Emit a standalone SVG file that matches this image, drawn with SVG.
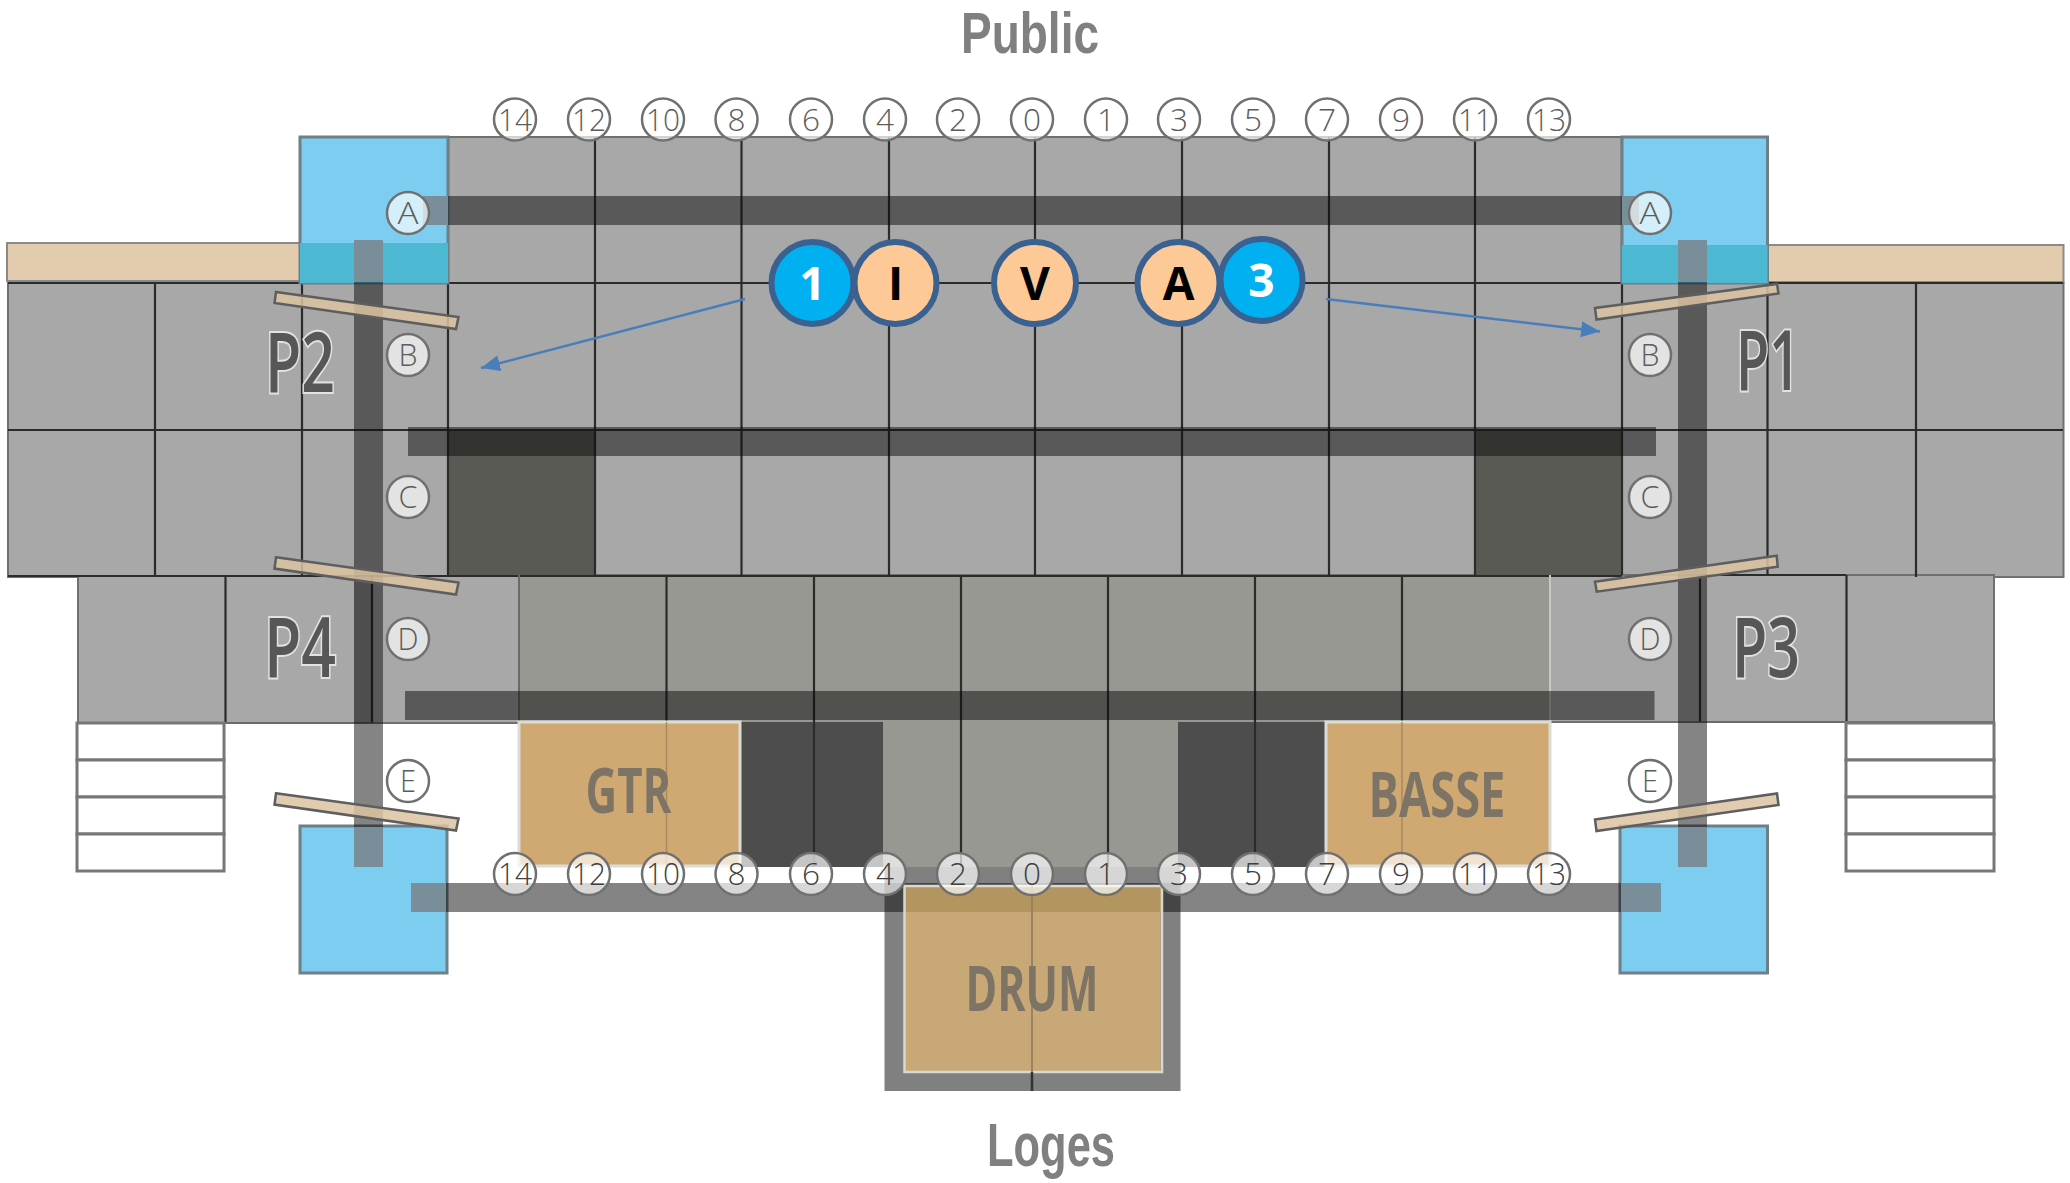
<svg xmlns="http://www.w3.org/2000/svg" width="2070" height="1183" viewBox="0 0 2070 1183">
<style>
text{font-family:"Open Sans","Noto Sans",sans-serif;text-anchor:middle}
.grey{fill:#a8a8a8;stroke:#707070;stroke-width:2}
.centre{fill:#989892}
.gl{stroke:#2b2b2b;stroke-width:2.2;fill:none}
.gs{stroke:#6a6a6a;stroke-width:2;fill:none}
.blue{fill:#7ccdf0;stroke:#6f7f88;stroke-width:3}
.over{fill:#7a8e9a}
.tan{fill:#e3cbae;stroke:#8a8a8a;stroke-width:2}
.band{fill:#0a0a0a;fill-opacity:.5}
.stage{fill:#cfa872;stroke:#dcdcd6;stroke-width:3}
.bar{fill:#dcc3a2;fill-opacity:.85;stroke:#5e5e5e;stroke-width:2.5}
.stair{fill:#fff;stroke:#777;stroke-width:3}
.nc{fill:#fff;fill-opacity:.68;stroke:#707070;stroke-width:2.5}
.nt{font-size:31px;font-weight:300;fill:#5c5c5c}
#column-markers-bottom .nt{fill:#404040}
.pz{font-size:84px;font-weight:600;fill:#575757;stroke:#e2e2e2;stroke-width:4;paint-order:stroke}
.st{font-size:62px;font-weight:700;fill:#7d7466}
.tt{font-family:"Liberation Sans",Arial,sans-serif;font-weight:700;fill:#808080}
.pc{stroke:#3a6190;stroke-width:6}
.pt{font-size:46px;font-weight:700}
.arr{stroke:#4a7ebb;stroke-width:2.5;fill:none;marker-end:url(#ah)}
</style>
<defs>
<marker id="ah" markerUnits="userSpaceOnUse" markerWidth="20" markerHeight="18" refX="19" refY="8" orient="auto"><path d="M0 0L19 8L0 16Z" fill="#4a7ebb"/></marker>
</defs>

<g id="platforms">
<rect x="7" y="243" width="293" height="38" class="tan"/>
<rect x="1767.5" y="245" width="296" height="37" class="tan"/>
<rect x="448" y="137" width="1174" height="438" class="grey"/>
<rect x="8" y="283" width="440" height="294" class="grey"/>
<rect x="1622" y="283" width="441.5" height="294" class="grey"/>
<rect x="78" y="576" width="441" height="147" class="grey"/>
<rect x="1550" y="575" width="444" height="147" class="grey"/>
<rect x="519" y="575" width="1031" height="147" class="centre"/>
<rect x="883" y="722" width="295" height="145" class="centre"/>
<rect x="740" y="722" width="143" height="145" fill="#4d4d4d"/>
<rect x="1178" y="722" width="148" height="145" fill="#4d4d4d"/>
<rect x="448" y="430" width="147" height="145" fill="#5a5a55"/>
<rect x="1475" y="430" width="147" height="145" fill="#5a5a55"/>
</g>

<g id="grid">
<path class="gl" d="M595 137V575M741.5 137V575M889 137V575M1035 137V575M1182 137V575M1329 137V575M1475 137V575M448 137V575M1622 137V575"/>
<path class="gl" d="M155 283V577M302 283V577M1767.500 283V575M1916 283V577"/>
<path class="gl" d="M8 430H2063M448 283H1767M8 283H300M1767 283H2063M8 576H1622M1700 575H1846"/>
<path class="gl" d="M225.5 576V723M372 576V723M666.5 576V722M814 575V867M961 575V867M1108 575V867M1255 575V867M1402 575V722M1700 575V722M1846.5 575V722"/>
<path class="gs" d="M519 575V722M78 723H372M1700 722H1994"/>
<path d="M1550 575V722" stroke="#c8c8c4" stroke-width="2"/>
</g>

<g id="blue-zones">
<rect x="300" y="137" width="148" height="146" class="blue"/>
<rect x="1622" y="137" width="145.500" height="146" class="blue"/>
<rect x="300" y="243" width="148" height="40" fill="#4cb8d2"/>
<rect x="1622" y="245" width="145.500" height="38" fill="#4cb8d2"/>
<rect x="300" y="826" width="147" height="147" class="blue"/>
<rect x="1620" y="826" width="147.500" height="147" class="blue"/>
</g>

<g id="stairs">
<rect x="77" y="723" width="147" height="37" class="stair"/>
<rect x="77" y="760" width="147" height="37" class="stair"/>
<rect x="77" y="797" width="147" height="37" class="stair"/>
<rect x="77" y="834" width="147" height="37" class="stair"/>
<rect x="1846" y="723" width="148" height="37" class="stair"/>
<rect x="1846" y="760" width="148" height="37" class="stair"/>
<rect x="1846" y="797" width="148" height="37" class="stair"/>
<rect x="1846" y="834" width="148" height="37" class="stair"/>
</g>

<g id="stages">
<g id="gtr"><rect x="519" y="722" width="221" height="144" class="stage"/><path d="M666.5 722V866" stroke="#a88a60" stroke-width="1.5"/><text x="628.5" y="813" class="st" textLength="86" lengthAdjust="spacingAndGlyphs">GTR</text></g>
<g id="basse"><rect x="1326" y="722" width="224" height="144" class="stage"/><path d="M1402 722V866" stroke="#a88a60" stroke-width="1.5"/><text x="1437" y="817" class="st" textLength="137" lengthAdjust="spacingAndGlyphs">BASSE</text></g>
<rect id="drum-frame" x="894.5" y="877" width="276" height="204" fill="#c8a876" stroke="#808080" stroke-width="20"/>
</g>

<g id="bands">
<rect x="423" y="196" width="1216" height="29" class="band"/>
<rect x="408" y="427" width="1248" height="29" class="band"/>
<rect x="405" y="691" width="1249.500" height="29" class="band"/>
<rect x="411" y="883" width="1249.500" height="29" class="band"/>
<rect x="354" y="240" width="29" height="627" class="band"/>
<rect x="1678" y="240" width="29" height="627" class="band"/>
<rect x="354" y="576" width="18" height="147" fill="#000" fill-opacity=".12"/>
<rect x="423" y="196" width="25" height="29" class="over"/>
<rect x="1622" y="196" width="17" height="29" class="over"/>
<rect x="354" y="240" width="29" height="42" class="over"/>
<rect x="1678" y="240" width="29" height="42" class="over"/>
<rect x="354" y="827" width="29" height="40" class="over"/>
<rect x="1678" y="827" width="29" height="40" class="over"/>
<rect x="411" y="883" width="35" height="29" class="over"/>
<rect x="1621" y="883" width="39.500" height="29" class="over"/>
</g>

<g id="drum">
<rect x="905" y="886" width="257" height="26" fill="#b3955f"/>
<rect x="904.500" y="886" width="257.500" height="186" fill="none" stroke="#d8d8d0" stroke-width="2.5"/>
<path d="M1032 886V1072" stroke="#9a8360" stroke-width="2"/>
<path d="M1032 1072V1091" stroke="#333" stroke-width="2.5"/>
<text x="1032" y="1011" class="st" textLength="133" lengthAdjust="spacingAndGlyphs">DRUM</text>
</g>

<g id="risers">
<path class="bar" d="M276 292L458.500 317L456 329L274.500 303Z"/>
<path class="bar" d="M276 557.300L458.500 582.600L456 594.600L274.500 568.600Z"/>
<path class="bar" d="M276 793.300L458.500 818.600L456 830.600L274.500 804.600Z"/>
<path class="bar" d="M1595 308L1777 284L1778.500 293.500L1596.500 319.500Z"/>
<path class="bar" d="M1595 581.700L1776.700 555.700L1777.700 566.700L1596.700 591.700Z"/>
<path class="bar" d="M1595 819.500L1777 793.500L1778.500 805L1596.500 831Z"/>
</g>

<g id="connectors">
<path class="arr" d="M745 299L481 368"/>
<path class="arr" d="M1326 299L1600 331.500"/>
</g>

<g id="zone-labels">
<text x="300" y="392" class="pz" textLength="70" lengthAdjust="spacingAndGlyphs">P2</text>
<text x="1768" y="390" class="pz" textLength="64" lengthAdjust="spacingAndGlyphs">P1</text>
<text x="300" y="677" class="pz" textLength="72" lengthAdjust="spacingAndGlyphs">P4</text>
<text x="1766" y="677" class="pz" textLength="68" lengthAdjust="spacingAndGlyphs">P3</text>
</g>

<g id="column-markers-top">
<g id="t14" transform="translate(515 119.500)"><circle r="21" class="nc"/><text y="11" class="nt" textLength="34" lengthAdjust="spacingAndGlyphs">14</text></g>
<g id="t12" transform="translate(589 119.500)"><circle r="21" class="nc"/><text y="11" class="nt" textLength="34" lengthAdjust="spacingAndGlyphs">12</text></g>
<g id="t10" transform="translate(663 119.500)"><circle r="21" class="nc"/><text y="11" class="nt" textLength="34" lengthAdjust="spacingAndGlyphs">10</text></g>
<g id="t8" transform="translate(736.500 119.500)"><circle r="21" class="nc"/><text y="11" class="nt" textLength="18" lengthAdjust="spacingAndGlyphs">8</text></g>
<g id="t6" transform="translate(811 119.500)"><circle r="21" class="nc"/><text y="11" class="nt" textLength="18" lengthAdjust="spacingAndGlyphs">6</text></g>
<g id="t4" transform="translate(885 119.500)"><circle r="21" class="nc"/><text y="11" class="nt" textLength="18" lengthAdjust="spacingAndGlyphs">4</text></g>
<g id="t2" transform="translate(958 119.500)"><circle r="21" class="nc"/><text y="11" class="nt" textLength="18" lengthAdjust="spacingAndGlyphs">2</text></g>
<g id="t0" transform="translate(1032 119.500)"><circle r="21" class="nc"/><text y="11" class="nt" textLength="18" lengthAdjust="spacingAndGlyphs">0</text></g>
<g id="t1" transform="translate(1106 119.500)"><circle r="21" class="nc"/><text y="11" class="nt" textLength="18" lengthAdjust="spacingAndGlyphs">1</text></g>
<g id="t3" transform="translate(1179 119.500)"><circle r="21" class="nc"/><text y="11" class="nt" textLength="18" lengthAdjust="spacingAndGlyphs">3</text></g>
<g id="t5" transform="translate(1253 119.500)"><circle r="21" class="nc"/><text y="11" class="nt" textLength="18" lengthAdjust="spacingAndGlyphs">5</text></g>
<g id="t7" transform="translate(1327 119.500)"><circle r="21" class="nc"/><text y="11" class="nt" textLength="18" lengthAdjust="spacingAndGlyphs">7</text></g>
<g id="t9" transform="translate(1401 119.500)"><circle r="21" class="nc"/><text y="11" class="nt" textLength="18" lengthAdjust="spacingAndGlyphs">9</text></g>
<g id="t11" transform="translate(1475 119.500)"><circle r="21" class="nc"/><text y="11" class="nt" textLength="34" lengthAdjust="spacingAndGlyphs">11</text></g>
<g id="t13" transform="translate(1549 119.500)"><circle r="21" class="nc"/><text y="11" class="nt" textLength="34" lengthAdjust="spacingAndGlyphs">13</text></g>
</g>

<g id="column-markers-bottom">
<g id="b14" transform="translate(515 874)"><circle r="21" class="nc"/><text y="11" class="nt" textLength="34" lengthAdjust="spacingAndGlyphs">14</text></g>
<g id="b12" transform="translate(589 874)"><circle r="21" class="nc"/><text y="11" class="nt" textLength="34" lengthAdjust="spacingAndGlyphs">12</text></g>
<g id="b10" transform="translate(663 874)"><circle r="21" class="nc"/><text y="11" class="nt" textLength="34" lengthAdjust="spacingAndGlyphs">10</text></g>
<g id="b8" transform="translate(736.500 874)"><circle r="21" class="nc"/><text y="11" class="nt" textLength="18" lengthAdjust="spacingAndGlyphs">8</text></g>
<g id="b6" transform="translate(811 874)"><circle r="21" class="nc"/><text y="11" class="nt" textLength="18" lengthAdjust="spacingAndGlyphs">6</text></g>
<g id="b4" transform="translate(885 874)"><circle r="21" class="nc"/><text y="11" class="nt" textLength="18" lengthAdjust="spacingAndGlyphs">4</text></g>
<g id="b2" transform="translate(958 874)"><circle r="21" class="nc"/><text y="11" class="nt" textLength="18" lengthAdjust="spacingAndGlyphs">2</text></g>
<g id="b0" transform="translate(1032 874)"><circle r="21" class="nc"/><text y="11" class="nt" textLength="18" lengthAdjust="spacingAndGlyphs">0</text></g>
<g id="b1" transform="translate(1106 874)"><circle r="21" class="nc"/><text y="11" class="nt" textLength="18" lengthAdjust="spacingAndGlyphs">1</text></g>
<g id="b3" transform="translate(1179 874)"><circle r="21" class="nc"/><text y="11" class="nt" textLength="18" lengthAdjust="spacingAndGlyphs">3</text></g>
<g id="b5" transform="translate(1253 874)"><circle r="21" class="nc"/><text y="11" class="nt" textLength="18" lengthAdjust="spacingAndGlyphs">5</text></g>
<g id="b7" transform="translate(1327 874)"><circle r="21" class="nc"/><text y="11" class="nt" textLength="18" lengthAdjust="spacingAndGlyphs">7</text></g>
<g id="b9" transform="translate(1401 874)"><circle r="21" class="nc"/><text y="11" class="nt" textLength="18" lengthAdjust="spacingAndGlyphs">9</text></g>
<g id="b11" transform="translate(1475 874)"><circle r="21" class="nc"/><text y="11" class="nt" textLength="34" lengthAdjust="spacingAndGlyphs">11</text></g>
<g id="b13" transform="translate(1549 874)"><circle r="21" class="nc"/><text y="11" class="nt" textLength="34" lengthAdjust="spacingAndGlyphs">13</text></g>
</g>

<g id="row-markers">
<g id="la" transform="translate(408 213)"><circle r="21" class="nc"/><text y="11" class="nt" textLength="21" lengthAdjust="spacingAndGlyphs">A</text></g>
<g id="lb" transform="translate(408 355)"><circle r="21" class="nc"/><text y="11" class="nt" textLength="19" lengthAdjust="spacingAndGlyphs">B</text></g>
<g id="lc" transform="translate(408 497)"><circle r="21" class="nc"/><text y="11" class="nt" textLength="19" lengthAdjust="spacingAndGlyphs">C</text></g>
<g id="ld" transform="translate(408 639)"><circle r="21" class="nc"/><text y="11" class="nt" textLength="21" lengthAdjust="spacingAndGlyphs">D</text></g>
<g id="le" transform="translate(408 781)"><circle r="21" class="nc"/><text y="11" class="nt" textLength="16" lengthAdjust="spacingAndGlyphs">E</text></g>
<g id="ra" transform="translate(1650 213)"><circle r="21" class="nc"/><text y="11" class="nt" textLength="21" lengthAdjust="spacingAndGlyphs">A</text></g>
<g id="rb" transform="translate(1650 355)"><circle r="21" class="nc"/><text y="11" class="nt" textLength="19" lengthAdjust="spacingAndGlyphs">B</text></g>
<g id="rc" transform="translate(1650 497)"><circle r="21" class="nc"/><text y="11" class="nt" textLength="19" lengthAdjust="spacingAndGlyphs">C</text></g>
<g id="rd" transform="translate(1650 639)"><circle r="21" class="nc"/><text y="11" class="nt" textLength="21" lengthAdjust="spacingAndGlyphs">D</text></g>
<g id="re" transform="translate(1650 781)"><circle r="21" class="nc"/><text y="11" class="nt" textLength="16" lengthAdjust="spacingAndGlyphs">E</text></g>
</g>

<g id="performers">
<g id="perf-1"><circle cx="812.5" cy="283" r="41" fill="#00b0f0" class="pc"/><text x="812.5" y="300" class="pt" fill="#fff">1</text></g>
<g id="perf-i"><circle cx="895.5" cy="283" r="41" fill="#fdc997" class="pc"/><text x="895.5" y="300" class="pt" fill="#000">I</text></g>
<g id="perf-v"><circle cx="1035" cy="283" r="41" fill="#fdc997" class="pc"/><text x="1035" y="300" class="pt" fill="#000">V</text></g>
<g id="perf-a"><circle cx="1178.5" cy="283" r="41" fill="#fdc997" class="pc"/><text x="1178.5" y="300" class="pt" fill="#000">A</text></g>
<g id="perf-3"><circle cx="1261.5" cy="280" r="41" fill="#00b0f0" class="pc"/><text x="1261.5" y="297" class="pt" fill="#fff">3</text></g>
</g>

<g id="titles">
<text x="1030" y="53" class="tt" font-size="58" textLength="138" lengthAdjust="spacingAndGlyphs">Public</text>
<text x="1051" y="1166" class="tt" font-size="62" textLength="128" lengthAdjust="spacingAndGlyphs">Loges</text>
</g>
</svg>
